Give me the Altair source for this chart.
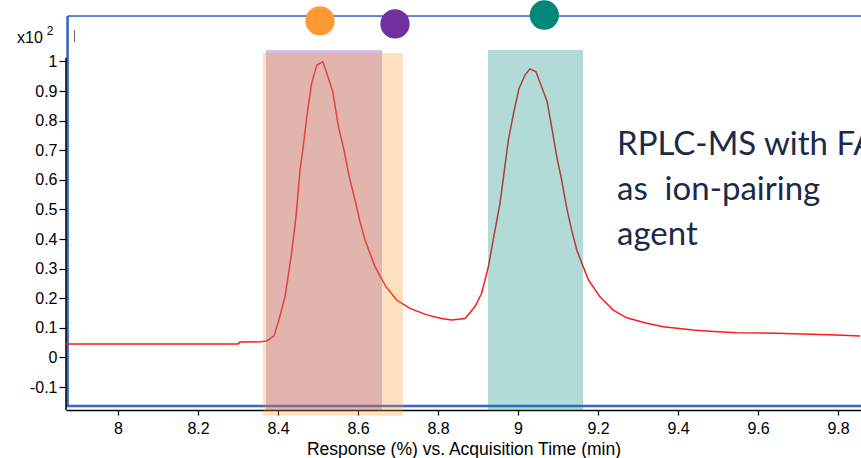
import altair as alt
import pandas as pd

# ---------------- data ----------------
time_min = [7.87, 8.30, 8.305, 8.355, 8.372, 8.39, 8.401, 8.4175, 8.434, 8.445, 8.455,
            8.462, 8.472, 8.484, 8.497, 8.512, 8.522, 8.537, 8.551, 8.565, 8.578,
            8.5925, 8.605, 8.6175, 8.6425, 8.67, 8.697, 8.73, 8.772, 8.809, 8.834,
            8.8675, 8.8925, 8.909, 8.926, 8.938, 8.955, 8.976, 8.988, 9.0025, 9.0175,
            9.03, 9.045, 9.059, 9.073, 9.084, 9.097, 9.109, 9.122, 9.134, 9.147,
            9.163, 9.176, 9.205, 9.238, 9.272, 9.322, 9.363, 9.397, 9.438, 9.48,
            9.547, 9.647, 9.797, 9.855]
response = [0.046, 0.046, 0.052, 0.053, 0.056, 0.073, 0.121, 0.205, 0.352, 0.476, 0.633,
            0.701, 0.814, 0.926, 0.988, 0.999, 0.960, 0.898, 0.780, 0.701, 0.611,
            0.532, 0.459, 0.397, 0.307, 0.239, 0.194, 0.166, 0.144, 0.132, 0.127,
            0.132, 0.172, 0.217, 0.307, 0.397, 0.521, 0.735, 0.819, 0.909, 0.954,
            0.975, 0.965, 0.915, 0.864, 0.780, 0.678, 0.600, 0.504, 0.431, 0.363,
            0.307, 0.262, 0.205, 0.160, 0.134, 0.116, 0.104, 0.099, 0.093, 0.089,
            0.084, 0.082, 0.076, 0.073]

x_ticks = [8.0, 8.2, 8.4, 8.6, 8.8, 9.0, 9.2, 9.4, 9.6, 9.8]
y_ticks = [-0.1, 0.0, 0.1, 0.2, 0.3, 0.4, 0.5, 0.6, 0.7, 0.8, 0.9, 1.0]

band_name = ["purple", "orange", "teal"]
band_start = [8.37, 8.3625, 8.925]
band_end = [8.66, 8.7125, 9.1625]
band_top = [1.039, 1.029, 1.039]
band_bottom = [-0.1774, -0.1966, -0.179]

marker_name = ["orange", "purple", "teal"]
marker_t = [8.505, 8.6925, 9.0658]
marker_r = [1.137, 1.127, 1.157]

note_lines = ["RPLC-MS with FA", "as \u00a0ion-pairing", "agent"]
note_t = [9.2475, 9.2475, 9.2475]
note_r = [0.684, 0.532, 0.380]

X_DOMAIN = [7.87, 9.8575]
Y_DOMAIN = [-0.1774, 1.1537]

# ---------------- styles ----------------
COLORS = {"purple": "#7030A0", "orange": "#FF9933", "teal": "#00877A"}
BLUE = "#3366CC"
FONT = "Liberation Sans"

xs = alt.Scale(domain=X_DOMAIN, nice=False, zero=False)
ys = alt.Scale(domain=Y_DOMAIN, nice=False, zero=False)

trace = pd.DataFrame({"t": time_min, "r": response})
bands = pd.DataFrame({"name": band_name, "t0": band_start, "t1": band_end,
                      "r0": band_bottom, "r1": band_top})
markers = pd.DataFrame({"name": marker_name, "t": marker_t, "r": marker_r})
notes = pd.DataFrame({"txt": note_lines, "t": note_t, "r": note_r})

color_scale = alt.Scale(domain=list(COLORS.keys()), range=list(COLORS.values()))

# frame (blue border) segments
frame = pd.DataFrame({
    "t0": [7.874, 7.87, 7.874],
    "t1": [7.874, 9.8575, 9.8575],
    "r0": [1.1537, -0.1639, 1.1537],
    "r1": [-0.1655, -0.1639, 1.1537],
    "w": [2.5, 2.5, 1.5],
})

frame_layer = alt.Chart(frame).mark_rule(color=BLUE, clip=False).encode(
    x=alt.X("t0:Q", scale=xs,
            axis=alt.Axis(values=x_ticks, tickCount=30,
                          labelExpr="format(datum.value, '.1~f')",
                          title="Response (%) vs. Acquisition Time (min)",
                          grid=False, domainColor="black", domainWidth=1.5,
                          tickColor="black", tickSize=5, tickWidth=1.2,
                          labelFont=FONT, labelFontSize=16, labelColor="black",
                          labelPadding=5, labelOverlap=False, labelFlush=False,
                          titleFont=FONT, titleFontSize=17.5,
                          titleFontWeight="normal", titleColor="black",
                          titlePadding=4)),
    x2="t1:Q",
    y=alt.Y("r0:Q", scale=ys,
            axis=alt.Axis(values=y_ticks, tickCount=30,
                          labelExpr="datum.value < 0 ? '-' + format(-datum.value, '.1~f') : format(datum.value, '.1~f')",
                          title=None, grid=False, domain=False,
                          tickColor="black", tickSize=7, tickWidth=1.2,
                          labelFont=FONT, labelFontSize=16, labelColor="black",
                          labelPadding=2, labelOverlap=False, labelFlush=False)),
    y2="r1:Q",
    strokeWidth=alt.StrokeWidth("w:Q", scale=None, legend=None),
)

yaxis_line = alt.Chart(pd.DataFrame({"t": [7.87], "r0": [1.013], "r1": [-0.1774]})).mark_rule(
    color="black", strokeWidth=1.5, clip=False
).encode(x=alt.X("t:Q", scale=xs), y=alt.Y("r0:Q", scale=ys), y2="r1:Q")

line_layer = alt.Chart(trace).mark_line(color="#FF1A1A", strokeWidth=1.5).encode(
    x=alt.X("t:Q", scale=xs), y=alt.Y("r:Q", scale=ys), order="t:Q"
)

band_layer = alt.Chart(bands).mark_rect(opacity=0.3, clip=False).encode(
    x=alt.X("t0:Q", scale=xs), x2="t1:Q",
    y=alt.Y("r0:Q", scale=ys), y2="r1:Q",
    color=alt.Color("name:N", scale=color_scale, legend=None),
    order=alt.Order("name:N", sort="descending"),
)

marker_layer = alt.Chart(markers).mark_circle(size=860, opacity=1, clip=False).encode(
    x=alt.X("t:Q", scale=xs), y=alt.Y("r:Q", scale=ys),
    color=alt.Color("name:N", scale=color_scale, legend=None),
)

note_layer = alt.Chart(notes).mark_text(
    align="left", baseline="alphabetic", font="Lato", fontSize=33,
    color="#1B2A4A", clip=False
).encode(x=alt.X("t:Q", scale=xs), y=alt.Y("r:Q", scale=ys), text="txt:N")

exp_main = alt.Chart(pd.DataFrame({"t": [7.78], "r": [1.0625], "s": ["x10"]})).mark_text(
    align="center", baseline="alphabetic", font=FONT, fontSize=16, color="black", clip=False
).encode(x=alt.X("t:Q", scale=xs), y=alt.Y("r:Q", scale=ys), text="s:N")

exp_sup = alt.Chart(pd.DataFrame({"t": [7.8305], "r": [1.088], "s": ["2"]})).mark_text(
    align="center", baseline="alphabetic", font=FONT, fontSize=12, color="black", clip=False
).encode(x=alt.X("t:Q", scale=xs), y=alt.Y("r:Q", scale=ys), text="s:N")

cursor = alt.Chart(pd.DataFrame({"t": [7.8913], "r0": [1.106], "r1": [1.066]})).mark_rule(
    color="#666666", strokeWidth=1, clip=False
).encode(x=alt.X("t:Q", scale=xs), y=alt.Y("r0:Q", scale=ys), y2="r1:Q")

chart = alt.layer(
    frame_layer, yaxis_line, line_layer, band_layer, marker_layer,
    note_layer, exp_main, exp_sup, cursor
).properties(
    width=795, height=394,
    autosize=alt.AutoSizeParams(type="none"),
    padding={"left": 66, "top": 16, "right": 0, "bottom": 48},
).configure_view(stroke=None).configure(background="white").configure_axis(
    labelOverlap=False
)

chart.save("out.html", embed_options={"renderer": "svg", "actions": False})
